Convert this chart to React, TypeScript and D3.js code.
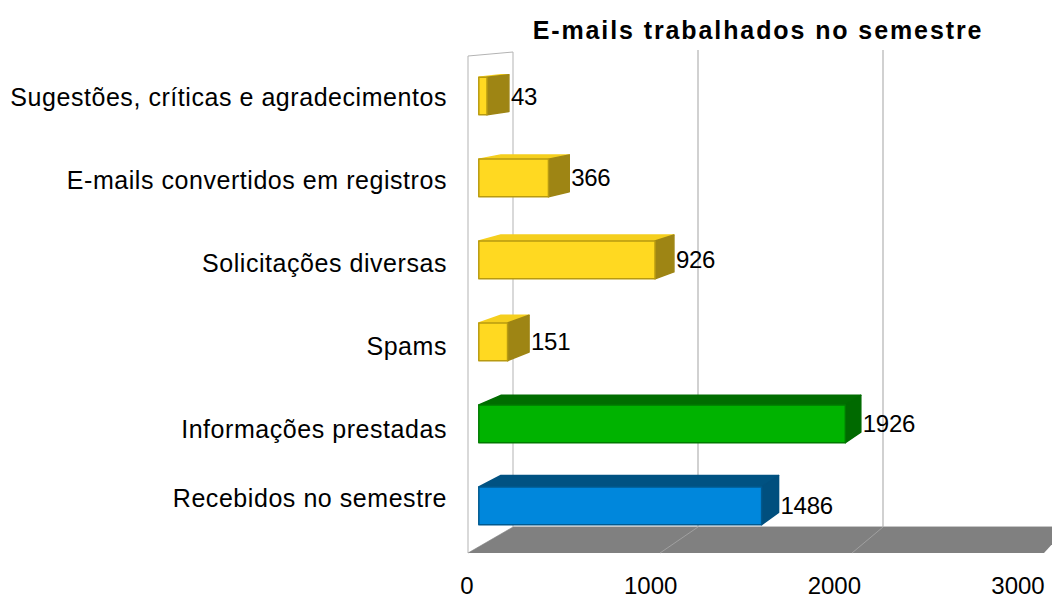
import * as d3 from "d3";

const categories = [
  "Recebidos no semestre",
  "Informações prestadas",
  "Spams",
  "Solicitações diversas",
  "E-mails convertidos em registros",
  "Sugestões, críticas e agradecimentos",
];
const values = [1486, 1926, 151, 926, 366, 43];
const barColors = ["blue", "green", "yellow", "yellow", "yellow", "yellow"];
const xTicks = [0, 1000, 2000, 3000];
const title = "E-mails trabalhados no semestre";

const palette: Record<string, { front: string; top: string; side: string; stroke: string }> = {
  blue: { front: "#0087dc", top: "#005282", side: "#004f7e", stroke: "#00598f" },
  green: { front: "#00b300", top: "#006d00", side: "#006a00", stroke: "#007a00" },
  yellow: { front: "#ffd921", top: "#f5cf1e", side: "#9e8514", stroke: "#b89a10" },
};

const W = 1052;
const H = 599;

// front plane and back plane of the 3D box
const xFront = d3.scaleLinear().domain([0, 3000]).range([468, 1044]);
const xBack = d3.scaleLinear().domain([0, 3000]).range([513, 1068]);
const yFront = d3.scaleBand<string>().domain(categories).range([553, 56]);
const yBack = d3.scaleBand<string>().domain(categories).range([527, 52]);
const xLabel = d3.scaleLinear().domain([0, 3000]).range([467, 1018]);

// v = value, z = depth (0 front, 1 back)
function px(v: number, z: number) {
  return xFront(v) * (1 - z) + xBack(v) * z;
}
// c = category, t = position inside the band (0..1)
function py(c: string, t: number, z: number) {
  const f = yFront(c)! + yFront.bandwidth() * t;
  const b = yBack(c)! + yBack.bandwidth() * t;
  return f * (1 - z) + b * z;
}
function pyEdge(frac: number, z: number) {
  const f = 553 + (56 - 553) * frac;
  const b = 527 + (52 - 527) * frac;
  return f * (1 - z) + b * z;
}

const Z1 = 0.24;
const Z2 = 0.73;
const T1 = 0.27; // top of bar within band
const T2 = 0.73; // bottom of bar within band

const font = "'Liberation Sans', Arial, sans-serif";

function Bar({ c, v, color }: { c: string; v: number; color: string }) {
  const p = palette[color];
  const pt = (vv: number, t: number, z: number) => `${px(vv, z)},${py(c, t, z)}`;
  const front = [pt(0, T1, Z1), pt(v, T1, Z1), pt(v, T2, Z1), pt(0, T2, Z1)].join(" ");
  const top = [pt(0, T1, Z1), pt(0, T1, Z2), pt(v, T1, Z2), pt(v, T1, Z1)].join(" ");
  const side = [pt(v, T1, Z1), pt(v, T1, Z2), pt(v, T2, Z2), pt(v, T2, Z1)].join(" ");
  return (
    <g strokeLinejoin="round" strokeWidth={1.5}>
      <polygon points={top} fill={p.top} stroke={p.top} />
      <polygon points={side} fill={p.side} stroke={p.side} />
      <polygon points={front} fill={p.front} stroke={p.stroke} />
    </g>
  );
}

export default function App() {
  const floor = [
    [px(0, 0), 553],
    [px(3000, 0), 553],
    [px(3000, 1), 527],
    [px(0, 1), 527],
  ]
    .map((d) => d.join(","))
    .join(" ");

  return (
    <svg width={W} height={H} style={{ display: "block", position: "absolute", left: 0, top: 0 }}>
      <rect width={W} height={H} fill="#ffffff" />

      {/* left wall */}
      <polygon
        points={`${px(0, 0)},${pyEdge(1, 0)} ${px(0, 1)},${pyEdge(1, 1)} ${px(0, 1)},${pyEdge(0, 1)} ${px(0, 0)},${pyEdge(0, 0)}`}
        fill="#ffffff"
        stroke="#b3b3b3"
        strokeWidth={1}
      />

      {/* back wall grid lines */}
      {xTicks.slice(1).map((t) => (
        <line
          key={t}
          x1={px(t, 1)}
          x2={px(t, 1)}
          y1={pyEdge(1, 1) - 2}
          y2={pyEdge(0, 1)}
          stroke="#b3b3b3"
          strokeWidth={1.2}
        />
      ))}
      <line x1={px(0, 1)} x2={px(3000, 1)} y1={527} y2={527} stroke="#b3b3b3" strokeWidth={1.5} />

      {/* floor */}
      <polygon points={floor} fill="#808080" />
      {xTicks.slice(1, 3).map((t) => (
        <line key={t} x1={px(t, 0)} y1={553} x2={px(t, 1)} y2={527} stroke="#a0a0a0" strokeWidth={1} />
      ))}

      {/* bars */}
      {categories.map((c, i) => (
        <Bar key={c} c={c} v={values[i]} color={barColors[i]} />
      ))}

      {/* value labels */}
      {categories.map((c, i) => (
        <text
          key={c}
          x={px(values[i], Z2) + 2}
          y={py(c, 0.5, Z1)}
          dominantBaseline="central"
          fontFamily={font}
          fontSize={24}
          letterSpacing={-0.3}
          fill="#000"
        >
          {values[i]}
        </text>
      ))}

      {/* category labels */}
      {categories.map((c, i) => (
        <text
          key={c}
          x={447}
          y={py(c, 0.5, 0) - (i === 0 ? 14 : 0)}
          textAnchor="end"
          dominantBaseline="central"
          fontFamily={font}
          fontSize={25}
          letterSpacing={0.55}
          fill="#000"
        >
          {c}
        </text>
      ))}

      {/* x tick labels */}
      {xTicks.map((t) => (
        <text
          key={t}
          x={xLabel(t)}
          y={585}
          textAnchor="middle"
          dominantBaseline="central"
          fontFamily={font}
          fontSize={24}
          fill="#000"
        >
          {t}
        </text>
      ))}

      <text
        x={758}
        y={30}
        textAnchor="middle"
        dominantBaseline="central"
        fontFamily={font}
        fontSize={25}
        fontWeight="bold"
        letterSpacing={1.9}
        fill="#000"
      >
        {title}
      </text>
    </svg>
  );
}
